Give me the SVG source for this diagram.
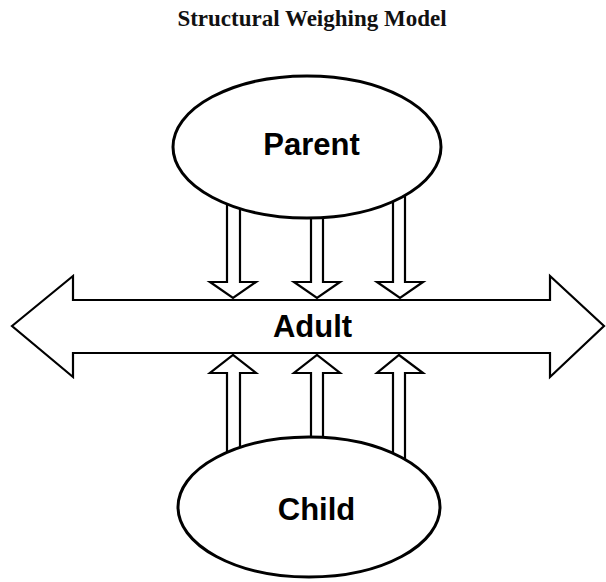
<svg xmlns="http://www.w3.org/2000/svg" width="606" height="582" viewBox="0 0 606 582">
<style>
.title{font-family:"Liberation Serif","Times New Roman",serif;font-weight:bold;font-size:23px;fill:#111}
.lbl{font-family:"Liberation Sans",Arial,sans-serif;font-weight:bold;font-size:31px;fill:#000;text-anchor:middle}
.arr{fill:#fff;stroke:#000;stroke-width:2.2;stroke-linejoin:miter}
.node{fill:#fff;stroke:#000;stroke-width:3}
</style>
<rect width="606" height="582" fill="#fff"/>
<text class="title" x="312" y="26" text-anchor="middle">Structural Weighing Model</text>
<g id="connectors">
<polygon class="arr" points="227,190 240,190 240,282 256,282 233,298 210,282 227,282"/>
<polygon class="arr" points="311,190 323,190 323,282 340,282 317,298 294,282 311,282"/>
<polygon class="arr" points="393,190 405,190 405,282 423,282 400,298 377,282 393,282"/>
<polygon class="arr" points="227,460 240,460 240,373 256,373 233,355 210,373 227,373"/>
<polygon class="arr" points="311,460 323,460 323,373 340,373 317,355 294,373 311,373"/>
<polygon class="arr" points="393,460 405,460 405,373 423,373 399,355 377,373 393,373"/>
</g>
<g id="adult">
<polygon class="arr" points="12,326 73,276 73,300 550,300 550,276 604,326 550,377 550,353 73,353 73,377"/>
<text class="lbl" x="312.5" y="337">Adult</text>
</g>
<g id="parent">
<ellipse class="node" cx="307" cy="147" rx="134" ry="71"/>
<text class="lbl" x="311.5" y="155">Parent</text>
</g>
<g id="child">
<ellipse class="node" cx="309" cy="507" rx="131" ry="70"/>
<text class="lbl" x="316.5" y="520">Child</text>
</g>
</svg>
